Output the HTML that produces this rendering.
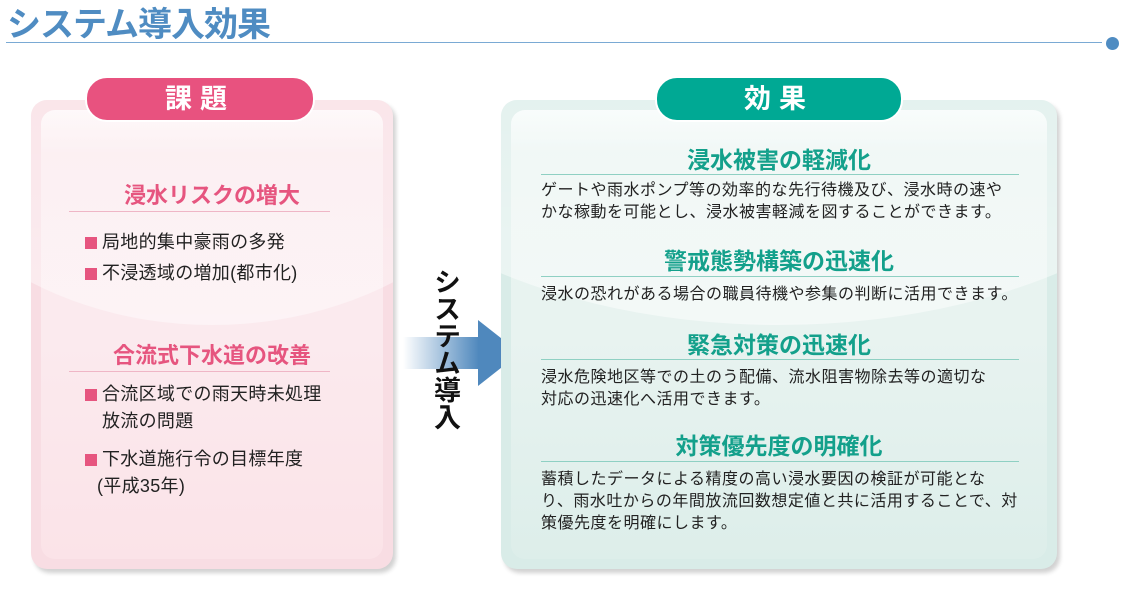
<!DOCTYPE html>
<html><head><meta charset="utf-8"><style>
body{margin:0;width:1122px;height:613px;background:#fff;position:relative;overflow:hidden;font-family:"Liberation Sans","Noto Sans CJK JP",sans-serif;}
.a{position:absolute;white-space:nowrap}
.title{left:7px;top:-3px;font-size:34px;font-weight:bold;color:#4f8cc2;letter-spacing:-1px}
.hl{left:6px;top:42px;width:1096px;height:1px;background:#7aaad4}
.dot{left:1106px;top:37px;width:13px;height:13px;border-radius:50%;background:#4f8cc2}
.panel{position:absolute;border-radius:16px;box-shadow:3px 4px 4px rgba(0,0,0,.18);overflow:hidden}
.inner{position:absolute;left:10px;right:10px;top:10px;bottom:10px;border-radius:14px}
.pill{position:absolute;border-radius:22px;color:#fff;font-weight:bold;font-size:27px;text-align:center;line-height:42px;letter-spacing:8px;border:2px solid #fff}
.lh{font-size:22px;font-weight:bold;color:#e6557f;text-align:center}
.rh{font-size:23px;font-weight:bold;color:#13a08b;text-align:center}
.bl{font-size:18px;color:#222;letter-spacing:0.3px}
.sq{display:inline-block;width:12px;height:12px;background:#e6557f;margin-right:5px;vertical-align:-1px}
.rt{font-size:16px;color:#222;line-height:22px;letter-spacing:0.5px}
</style></head><body>
<div class="a title">システム導入効果</div>
<div class="a hl"></div>
<div class="a dot"></div>

<div class="panel" style="left:31px;top:100px;width:362px;height:469px;background:#f8dde3;">
 <div class="inner" style="background:linear-gradient(#fdf7f8 0%,#fbe9ed 10%,#fbeaee 50%,#fbe3e8 100%)"></div>
 <div style="position:absolute;left:-150px;top:-300px;width:662px;height:525px;border-radius:50%;background:linear-gradient(rgba(255,255,255,0),rgba(255,255,255,.45));"></div>
</div>
<div class="pill" style="left:85px;top:76px;width:226px;height:42px;background:#e8527f;">課題</div>
<div class="a lh" style="left:31px;width:362px;top:178px">浸水リスクの増大</div>
<div class="a" style="left:69px;top:211px;width:261px;height:1px;background:#efb6c6"></div>
<div class="a bl" style="left:85px;top:228px"><span class="sq"></span>局地的集中豪雨の多発</div>
<div class="a bl" style="left:85px;top:259px"><span class="sq"></span>不浸透域の増加(都市化)</div>
<div class="a lh" style="left:31px;width:362px;top:338px">合流式下水道の改善</div>
<div class="a" style="left:69px;top:371px;width:261px;height:1px;background:#efb6c6"></div>
<div class="a bl" style="left:85px;top:381px;line-height:27px"><span class="sq"></span>合流区域での雨天時未処理<br><span style="margin-left:17px">放流の問題</span></div>
<div class="a bl" style="left:85px;top:446px;line-height:27px"><span class="sq"></span>下水道施行令の目標年度<br><span style="margin-left:12px">(平成35年)</span></div>

<div class="a" style="left:403px;top:337px;width:76px;height:32px;background:linear-gradient(90deg,rgba(79,136,189,0),#4f88bd)"></div>
<div class="a" style="left:478px;top:320px;width:0;height:0;border-top:33px solid transparent;border-bottom:33px solid transparent;border-left:42px solid #4f88bd"></div>
<div class="a" style="left:429px;top:268px;width:30px;font-size:27px;font-weight:bold;color:#111;line-height:28px;text-align:center;writing-mode:vertical-rl;">システム導入</div>

<div class="panel" style="left:501px;top:100px;width:556px;height:469px;background:#d9ece8;">
 <div class="inner" style="background:linear-gradient(#f6fbfa 0%,#e9f4f1 10%,#e8f3f0 50%,#ddeeea 100%)"></div>
 <div style="position:absolute;left:-200px;top:-330px;width:956px;height:555px;border-radius:50%;background:linear-gradient(rgba(255,255,255,0),rgba(255,255,255,.5));"></div>
</div>
<div class="pill" style="left:655px;top:76px;width:244px;height:42px;background:#00a994;">効果</div>

<div class="a rh" style="left:501px;width:556px;top:141px">浸水被害の軽減化</div>
<div class="a" style="left:541px;top:174px;width:478px;height:1px;background:#8fd0c3"></div>
<div class="a rt" style="left:541px;top:180px">ゲートや雨水ポンプ等の効率的な先行待機及び、浸水時の速や<br>かな稼動を可能とし、浸水被害軽減を図することができます。</div>

<div class="a rh" style="left:501px;width:556px;top:242px">警戒態勢構築の迅速化</div>
<div class="a" style="left:541px;top:276px;width:478px;height:1px;background:#8fd0c3"></div>
<div class="a rt" style="left:541px;top:284px">浸水の恐れがある場合の職員待機や参集の判断に活用できます。</div>

<div class="a rh" style="left:501px;width:556px;top:326px">緊急対策の迅速化</div>
<div class="a" style="left:541px;top:359px;width:478px;height:1px;background:#8fd0c3"></div>
<div class="a rt" style="left:541px;top:367px">浸水危険地区等での土のう配備、流水阻害物除去等の適切な<br>対応の迅速化へ活用できます。</div>

<div class="a rh" style="left:501px;width:556px;top:427px">対策優先度の明確化</div>
<div class="a" style="left:541px;top:461px;width:478px;height:1px;background:#8fd0c3"></div>
<div class="a rt" style="left:541px;top:469px">蓄積したデータによる精度の高い浸水要因の検証が可能とな<br>り、雨水吐からの年間放流回数想定値と共に活用することで、対<br>策優先度を明確にします。</div>
</body></html>
